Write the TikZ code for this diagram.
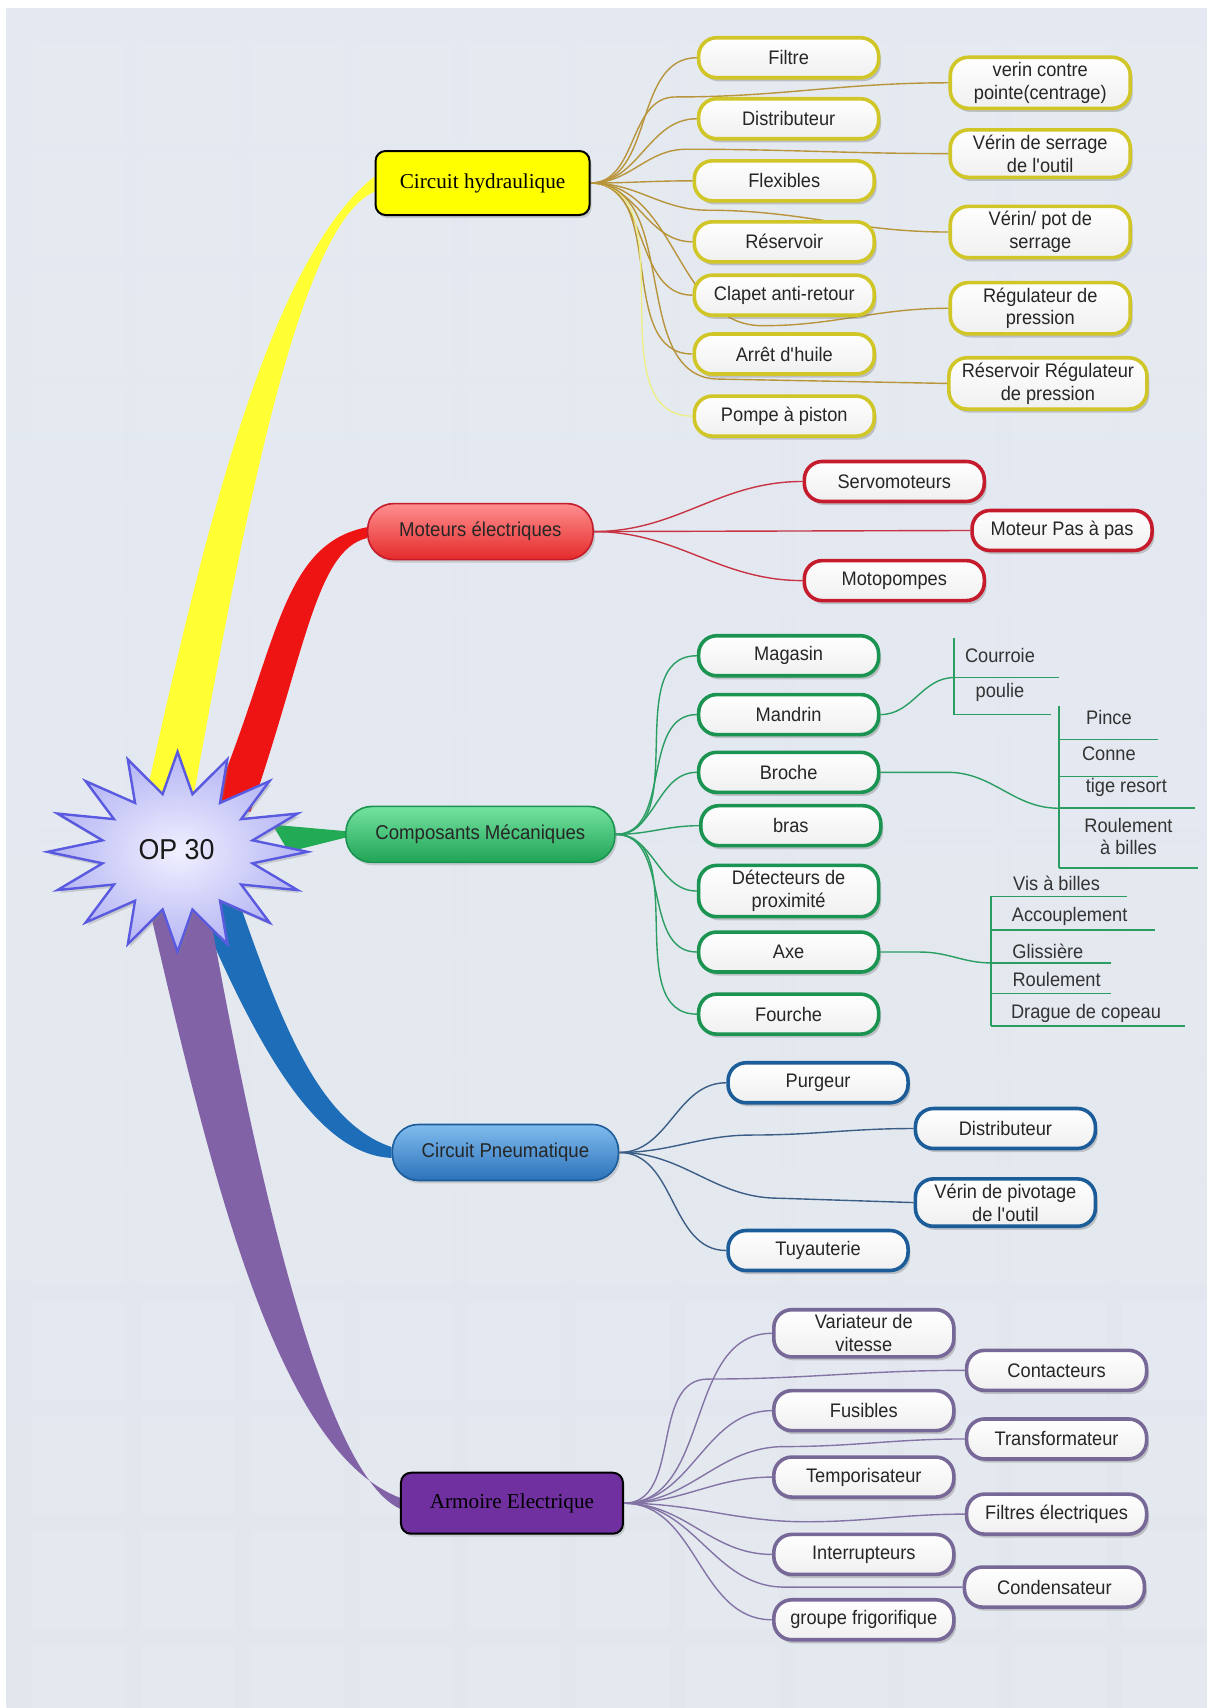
\documentclass[tikz,border=0pt]{standalone}
\usepackage{fontspec}
\setmainfont[FakeStretch=0.93]{Liberation Sans}
\newfontfamily\serifnm{Liberation Serif}
\usetikzlibrary{shapes.geometric,shadows,calc}
\pgfdeclarelayer{background}
\pgfsetlayers{background,main}

\definecolor{bgtop}{HTML}{E4E9F1}
\definecolor{bgmid}{HTML}{C2CEDB}
\definecolor{bgbot}{HTML}{E2E7EE}
\definecolor{hydfill}{HTML}{FFFF00}
\definecolor{hydedge}{HTML}{D0C628}
\definecolor{hydline}{HTML}{B8943A}
\definecolor{hydpale}{HTML}{EEEE88}
\definecolor{motA}{HTML}{FF8E8E}
\definecolor{motB}{HTML}{E42A2A}
\definecolor{motedge}{HTML}{C41C2C}
\definecolor{motline}{HTML}{C83444}
\definecolor{compA}{HTML}{74E2A0}
\definecolor{compB}{HTML}{20A456}
\definecolor{compedge}{HTML}{1A9450}
\definecolor{compline}{HTML}{2A9E62}
\definecolor{pneuA}{HTML}{80BCEE}
\definecolor{pneuB}{HTML}{2C72BA}
\definecolor{pneuedge}{HTML}{1C5C98}
\definecolor{pneuline}{HTML}{3C5E86}
\definecolor{armfill}{HTML}{7030A0}
\definecolor{armedge}{HTML}{786898}
\definecolor{armline}{HTML}{8474A6}
\definecolor{branchY}{HTML}{FFFF33}
\definecolor{branchR}{HTML}{EE1414}
\definecolor{branchG}{HTML}{22AA55}
\definecolor{branchB}{HTML}{1E6DB8}
\definecolor{branchP}{HTML}{8262A6}
\definecolor{starA}{HTML}{F0F0FF}
\definecolor{starB}{HTML}{B4B4F4}
\definecolor{starline}{HTML}{5A5AE0}

\newcommand\leafsize{\fontsize{9.8}{11.4}\selectfont}
\newcommand\mainsize{\fontsize{10}{12}\selectfont}

\tikzset{
  leaf/.style={draw=#1, line width=1.8pt, rounded corners=9pt, top color=white,
    bottom color=white!88!gray, minimum width=90pt, minimum height=20pt,
    inner xsep=3pt, inner ysep=2.5pt, align=center, font=\leafsize, text=black!85,
    drop shadow={opacity=0.4, shadow xshift=1.2pt, shadow yshift=-1.8pt}},
  boxhub/.style={draw=black, line width=1pt, rounded corners=5pt, minimum width=107pt,
    minimum height=32pt, font=\serifnm\fontsize{10.6}{12}\selectfont,
    drop shadow={opacity=0.3, shadow xshift=1pt, shadow yshift=-1.5pt}},
  pillhub/.style={draw=#1, line width=0.8pt, rounded corners=13pt, minimum height=28pt,
    font=\mainsize, text=black!85,
    drop shadow={opacity=0.3, shadow xshift=1pt, shadow yshift=-1.5pt}},
  opstar/.style={star, star points=16, star point ratio=1.7, minimum size=100pt,
    inner sep=0pt, xscale=1.3, draw=starline, line width=1.2pt,
    inner color=starA, outer color=starB,
    drop shadow={opacity=0.3, shadow xshift=1pt, shadow yshift=-1.5pt}},
  twig/.style={draw=#1, line width=0.7pt},
  sub/.style={font=\leafsize, text=black!80, inner sep=0pt, align=center},
  subline/.style={draw=compline, line width=0.8pt}
}

\begin{document}
\begin{tikzpicture}[x=0.5447pt,y=-0.5447pt]
\useasboundingbox (0,0) rectangle (1108,1568);

% centre and main topics
\node[opstar] (op) at (163,782) {};
\node[font=\fontsize{14.4}{16}\selectfont, text=black!90] (optxt) at (162,780) {OP 30};
\node[boxhub, fill=hydfill] (hyd) at (443,168) {Circuit hydraulique};
\node[pillhub=motedge, top color=motA, bottom color=motB, minimum width=112.7pt] (mot) at (441,488) {Moteurs électriques};
\node[pillhub=compedge, top color=compA, bottom color=compB, minimum width=134.5pt] (comp) at (441,766) {Composants Mécaniques};
\node[pillhub=pneuedge, top color=pneuA, bottom color=pneuB, minimum width=113pt] (pneu) at (464,1058) {Circuit Pneumatique};
\node[boxhub, fill=armfill, minimum width=111pt, minimum height=30.5pt] (arm) at (470,1380) {Armoire Electrique};

% hydraulique
\node[leaf=hydedge] (fil) at (724,53) {Filtre};
\node[leaf=hydedge] (dis) at (724,109) {Distributeur};
\node[leaf=hydedge] (fle) at (720,166) {Flexibles};
\node[leaf=hydedge] (res) at (720,222) {Réservoir};
\node[leaf=hydedge] (cla) at (720,271) {Clapet anti-retour};
\node[leaf=hydedge] (arr) at (720,325) {Arrêt d\textquotesingle huile};
\node[leaf=hydedge] (pom) at (720,382) {Pompe à piston};
\node[leaf=hydedge] (vcp) at (955,76) {verin contre\\pointe(centrage)};
\node[leaf=hydedge] (vso) at (955,141) {Vérin de serrage\\de l\textquotesingle outil};
\node[leaf=hydedge] (vps) at (955,213) {Vérin/ pot de\\serrage};
\node[leaf=hydedge] (reg) at (955,283) {Régulateur de\\pression};
\node[leaf=hydedge, minimum width=99pt] (rrp) at (962,352) {Réservoir Régulateur\\de pression};

% moteurs
\node[leaf=motedge] (servo) at (821,442) {Servomoteurs};
\node[leaf=motedge] (pas) at (975,487) {Moteur Pas à pas};
\node[leaf=motedge] (motp) at (821,533) {Motopompes};

% composants
\node[leaf=compedge] (mag) at (724,602) {Magasin};
\node[leaf=compedge] (man) at (724,656) {Mandrin};
\node[leaf=compedge] (bro) at (724,709) {Broche};
\node[leaf=compedge] (bras) at (726,758) {bras};
\node[leaf=compedge] (det) at (724,818) {Détecteurs de\\proximité};
\node[leaf=compedge] (axe) at (724,874) {Axe};
\node[leaf=compedge] (fou) at (724,931) {Fourche};
\node[sub] (cour) at (918,602) {Courroie};
\node[sub] (pou) at (918,636) {poulie};
\node[sub] (pin) at (1018,659) {Pince};
\node[sub] (conne) at (1018,692) {Conne};
\node[sub] (tige) at (1034,723) {tige resort};
\node[sub] (roub) at (1036,768) {Roulement\\à billes};
\node[sub] (vis) at (970,811) {Vis à billes};
\node[sub] (acc) at (982,841) {Accouplement};
\node[sub] (gli) at (962,873) {Glissière};
\node[sub] (rou) at (970,899) {Roulement};
\node[sub] (dra) at (997,930) {Drague de copeau};
\coordinate (mangrp) at (876,622);
\coordinate (brogrp) at (972,742);
\coordinate (axegrp) at (910,884);

% pneumatique
\node[leaf=pneuedge] (pur) at (751,994) {Purgeur};
\node[leaf=pneuedge] (pdis) at (923,1036) {Distributeur};
\node[leaf=pneuedge] (piv) at (923,1104) {Vérin de pivotage\\de l\textquotesingle outil};
\node[leaf=pneuedge] (tuy) at (751,1148) {Tuyauterie};

% armoire
\node[leaf=armedge] (var) at (793,1224) {Variateur de\\vitesse};
\node[leaf=armedge] (fus) at (793,1295) {Fusibles};
\node[leaf=armedge] (tem) at (793,1356) {Temporisateur};
\node[leaf=armedge] (int) at (793,1427) {Interrupteurs};
\node[leaf=armedge] (grp) at (793,1487) {groupe frigorifique};
\node[leaf=armedge] (con) at (970,1258) {Contacteurs};
\node[leaf=armedge] (tra) at (970,1321) {Transformateur};
\node[leaf=armedge] (filt) at (970,1390) {Filtres électriques};
\node[leaf=armedge] (cond) at (968,1457) {Condensateur};

\begin{pgfonlayer}{background}
  % page
  \fill[white] (0,0) rectangle (1108,1568);
  \shade[top color=bgtop, middle color=bgmid, bottom color=bgbot] (6,8) rectangle (1108,1568);
  \foreach \i in {0,...,10}{\foreach \j in {0,...,14}{
    \fill[white, opacity=0.07] (30+100*\i,40+105*\j) rectangle +(85,90);}}

  % thick branches
  \fill[branchY] (132,740) .. controls (185,500) and (245,240) .. ($(hyd.west)+(0,-6)$)
    -- ($(hyd.west)+(0,8)$) .. controls (275,205) and (225,470) .. (176,740) -- cycle;
  \fill[branchR] (192,745) .. controls (255,600) and (255,500) .. ($(mot.west)+(0,-4)$)
    -- ($(mot.west)+(0,6)$) .. controls (290,505) and (280,600) .. (230,745) -- cycle;
  \fill[branchG] (250,757) -- ($(comp.west)+(0,-3)$) -- ($(comp.west)+(0,3)$) -- (265,782) -- cycle;
  \fill[branchB] (215,815) .. controls (255,930) and (290,1030) .. ($(pneu.west)+(0,-5)$)
    -- ($(pneu.west)+(0,5)$) .. controls (290,1060) and (235,960) .. (178,825) -- cycle;
  \fill[branchP] (135,825) .. controls (190,1060) and (250,1330) .. ($(arm.west)+(0,-5)$)
    -- ($(arm.west)+(0,5)$) .. controls (290,1350) and (225,1020) .. (190,825) -- cycle;

  % twigs
  \foreach \n in {fil,dis,fle,res,cla,arr}
    \draw[twig=hydline] (hyd.east) to[out=0,in=180] (\n.west);
  \draw[twig=hydpale] (hyd.east) to[out=0,in=180] (pom.west);
  \draw[twig=hydline] (hyd.east) to[out=0,in=180] (620,89) to[out=0,in=180] (vcp.west);
  \draw[twig=hydline] (hyd.east) to[out=0,in=180] (630,137) to[out=0,in=180] (vso.west);
  \draw[twig=hydline] (hyd.east) to[out=0,in=180] (650,193) to[out=0,in=180] (vps.west);
  \draw[twig=hydline] (hyd.east) to[out=0,in=180] (700,299) to[out=0,in=180] (reg.west);
  \draw[twig=hydline] (hyd.east) to[out=0,in=180] (660,348) -- (rrp.west);

  \draw[twig=motline] (mot.east) to[out=0,in=180] (servo.west);
  \draw[twig=motline] (mot.east) -- (pas.west);
  \draw[twig=motline] (mot.east) to[out=0,in=180] (motp.west);

  \foreach \n in {mag,man,bro,bras,det,axe,fou}
    \draw[twig=compline] (comp.east) to[out=0,in=180] (\n.west);
  \draw[twig=compline] (man.east) to[out=0,in=180] (mangrp);
  \draw[twig=compline] (bro.east) -- (870,709) to[out=0,in=180] (brogrp);
  \draw[twig=compline] (axe.east) -- (845,874) to[out=0,in=180] (axegrp);
  \draw[subline] (876,586) -- (876,656);
  \draw[subline] (mangrp) -- (972,622);
  \draw[subline] (876,656) -- (965,656);
  \draw[subline] (972,648) -- (972,797);
  \foreach \yy/\xe in {679/1063,713/1063,742/1097,797/1100}
    \draw[subline] (972,\yy) -- (\xe,\yy);
  \draw[subline] (910,823) -- (910,942);
  \foreach \yy/\xe in {823/1035,854/1060,884/1020,912/1020,942/1088}
    \draw[subline] (910,\yy) -- (\xe,\yy);

  \draw[twig=pneuline] (pneu.east) to[out=0,in=180] (pur.west);
  \draw[twig=pneuline] (pneu.east) to[out=0,in=180] (690,1042) to[out=0,in=180] (pdis.west);
  \draw[twig=pneuline] (pneu.east) to[out=0,in=180] (715,1100) -- (piv.west);
  \draw[twig=pneuline] (pneu.east) to[out=0,in=180] (tuy.west);

  \foreach \n in {var,fus,tem,int,grp}
    \draw[twig=armline] (arm.east) to[out=0,in=180] (\n.west);
  \draw[twig=armline] (arm.east) to[out=0,in=180] (650,1266) to[out=0,in=180] (con.west);
  \draw[twig=armline] (arm.east) to[out=0,in=180] (720,1328) to[out=0,in=180] (tra.west);
  \draw[twig=armline] (arm.east) to[out=0,in=180] (740,1397) to[out=0,in=180] (filt.west);
  \draw[twig=armline] (arm.east) to[out=0,in=180] (720,1457) -- (cond.west);
\end{pgfonlayer}
\end{tikzpicture}
\end{document}
